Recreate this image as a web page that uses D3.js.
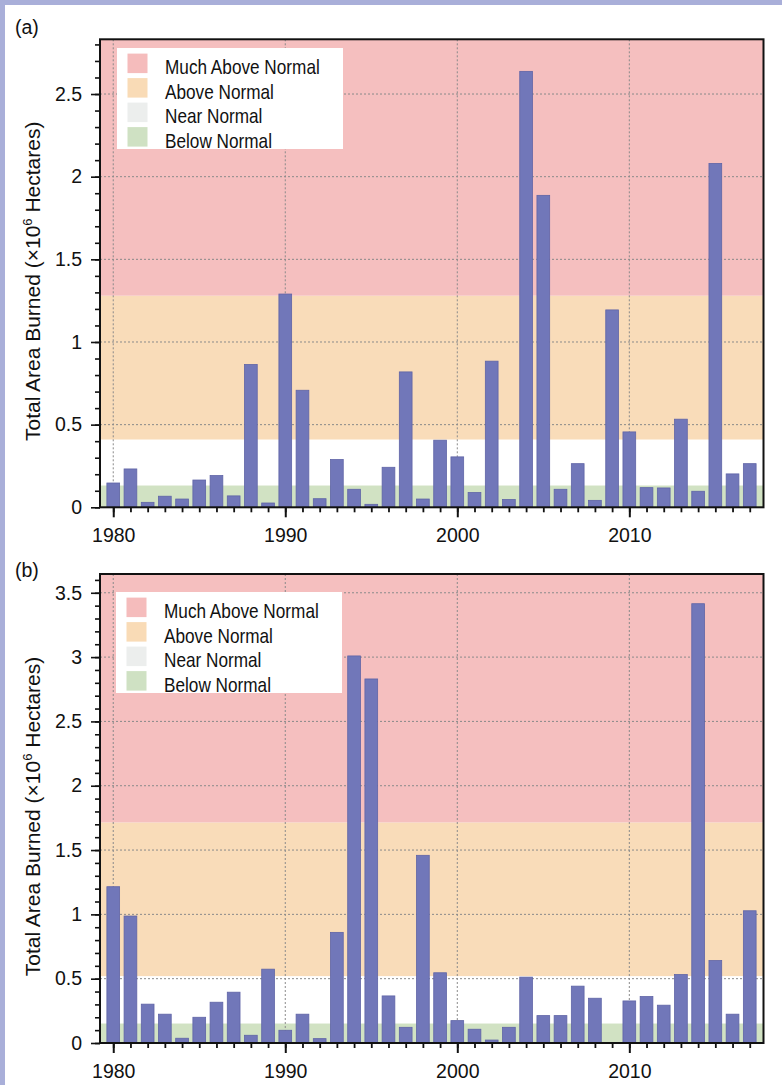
<!DOCTYPE html>
<html><head><meta charset="utf-8">
<script src="https://cdn.jsdelivr.net/npm/d3@7"></script>
<style>
body{margin:0;background:#fff;}
svg{display:block;font-family:"Liberation Sans",Arial,sans-serif;}
</style></head><body>
<svg id="c" width="782" height="1085"></svg>
<script>
// ---- data ----
const years = d3.range(1980, 2018);
const areaA = [0.147,0.232,0.030,0.067,0.050,0.165,0.192,0.069,0.864,0.026,
               1.290,0.708,0.052,0.289,0.109,0.018,0.242,0.819,0.050,0.406,
               0.305,0.089,0.884,0.047,2.637,1.887,0.109,0.264,0.042,1.194,
               0.456,0.119,0.117,0.533,0.097,2.080,0.202,0.264];
const areaB = [1.215,0.987,0.302,0.224,0.037,0.200,0.317,0.395,0.060,0.574,
               0.099,0.224,0.034,0.860,3.009,2.830,0.366,0.122,1.459,0.546,
               0.174,0.107,0.023,0.122,0.512,0.213,0.213,0.442,0.348,null,
               0.327,0.361,0.294,0.532,3.415,0.641,0.224,1.028];
const bandsA = [0.133, 0.41, 1.28];   // below / near / above thresholds
const bandsB = [0.153, 0.52, 1.715];
const legendLabels = ["Much Above Normal","Above Normal","Near Normal","Below Normal"];
const legendColors = ["#f5bcbc","#f9dbb6","#eceeed","#cfe1c3"];
const bandFill = {below:"#d1e2c3", near:"#ffffff", above:"#f9dcb9", much:"#f5bfbf"};
const yTicksA = [0,0.5,1,1.5,2,2.5];
const yTicksB = [0,0.5,1,1.5,2,2.5,3,3.5];
const xTickLabels = [1980,1990,2000,2010];
const panelLabels = ["(a)","(b)"];

// ---- layout ----
const svg = d3.select("#c");
svg.append("rect").attr("x",0).attr("y",0).attr("width",782).attr("height",5).attr("fill","#a9afd9");
svg.append("rect").attr("x",0).attr("y",0).attr("width",5).attr("height",1085).attr("fill","#a9afd9");

const left = 100, right = 763.5;
const x = d3.scaleLinear().domain([1979.23, 2017.8]).range([left, right]);

const panels = [
  {label:panelLabels[0], top:39.3, bottom:507.3, ymax:2.831, values:areaA, bands:bandsA, ticks:yTicksA, lx:117, ly:48, labelY:34},
  {label:panelLabels[1], top:574, bottom:1043, ymax:3.646, values:areaB, bands:bandsB, ticks:yTicksB, lx:116, ly:592, labelY:577}
];

panels.forEach(p => {
  const y = d3.scaleLinear().domain([0, p.ymax]).range([p.bottom, p.top]);
  const g = svg.append("g");
  const segs = [
    [0, p.bands[0], bandFill.below],
    [p.bands[0], p.bands[1], bandFill.near],
    [p.bands[1], p.bands[2], bandFill.above],
    [p.bands[2], p.ymax, bandFill.much]
  ];
  g.selectAll("rect.band").data(segs).join("rect")
    .attr("x", left).attr("width", right-left)
    .attr("y", d => y(d[1])).attr("height", d => y(d[0]) - y(d[1]))
    .attr("fill", d => d[2]);

  // grid
  g.selectAll("line.vg").data(xTickLabels).join("line")
    .attr("x1", d=>x(d)).attr("x2", d=>x(d)).attr("y1", p.top).attr("y2", p.bottom)
    .attr("stroke","#8a8a8a").attr("stroke-width",1).attr("stroke-dasharray","2,2");
  g.selectAll("line.hg").data(p.ticks.filter(t=>t>0)).join("line")
    .attr("x1", left).attr("x2", right).attr("y1", d=>y(d)).attr("y2", d=>y(d))
    .attr("stroke","#8a8a8a").attr("stroke-width",1).attr("stroke-dasharray","2,2");

  // bars
  const hw = 0.37;
  g.selectAll("rect.bar").data(years.map((yr,i)=>({yr, v:p.values[i]})).filter(d=>d.v!=null)).join("rect")
    .attr("x", d => x(d.yr-hw)).attr("width", d => x(d.yr+hw)-x(d.yr-hw))
    .attr("y", d => y(d.v)).attr("height", d => y(0)-y(d.v))
    .attr("fill","#7177b9").attr("stroke","#5f64a6").attr("stroke-width",0.8);

  // legend
  const lg = g.append("g").attr("transform",`translate(${p.lx},${p.ly})`);
  lg.append("rect").attr("width",226).attr("height",101).attr("fill","#fff");
  legendLabels.forEach((lab,i)=>{
    const ry = 5.6 + i*24.5;
    lg.append("rect").attr("x",10.5).attr("y",ry).attr("width",20).attr("height",19.5).attr("fill",legendColors[i]);
    lg.append("text").attr("transform",`translate(48,${ry+20.5}) scale(0.86,1)`)
      .attr("font-size",20).attr("fill","#111").text(lab);
  });

  // frame
  g.append("rect").attr("x",left).attr("y",p.top).attr("width",right-left).attr("height",p.bottom-p.top)
    .attr("fill","none").attr("stroke","#111").attr("stroke-width",2);

  // axes
  const minorY = d3.range(0, p.ymax, 0.1);
  g.append("g").attr("transform",`translate(${left},0)`)
    .call(d3.axisLeft(y).tickValues(minorY).tickSize(5).tickFormat(""))
    .call(a=>{a.select(".domain").remove(); a.selectAll("line").attr("stroke","#111").attr("stroke-width",1.6);});
  g.append("g").attr("transform",`translate(${left},0)`)
    .call(d3.axisLeft(y).tickValues(p.ticks).tickSize(9).tickPadding(9).tickFormat(d3.format("")))
    .call(a=>{a.select(".domain").remove(); a.selectAll("line").attr("stroke","#111").attr("stroke-width",1.6);
      a.selectAll("text").attr("font-size",19.5).attr("fill","#111").attr("font-family","Liberation Sans, Arial, sans-serif");});
  g.append("g").attr("transform",`translate(0,${p.bottom})`)
    .call(d3.axisBottom(x).tickValues(years).tickSize(5).tickFormat(""))
    .call(a=>{a.select(".domain").remove(); a.selectAll("line").attr("stroke","#111").attr("stroke-width",1.8);});
  g.append("g").attr("transform",`translate(0,${p.bottom})`)
    .call(d3.axisBottom(x).tickValues(xTickLabels).tickSize(10).tickPadding(11).tickFormat(d3.format("d")))
    .call(a=>{a.select(".domain").remove(); a.selectAll("line").attr("stroke","#111").attr("stroke-width",2);
      a.selectAll("text").attr("font-size",19.5).attr("fill","#111").attr("font-family","Liberation Sans, Arial, sans-serif");});

  // y title
  const cy = (p.top + p.bottom)/2 + 8;
  const t = g.append("text").attr("transform",`translate(40,${cy}) rotate(-90)`)
    .attr("text-anchor","middle").attr("font-size",21).attr("fill","#111");
  t.append("tspan").text("Total Area Burned (×10");
  t.append("tspan").attr("font-size",13).attr("dy",-8).text("6");
  t.append("tspan").attr("dy",8).text(" Hectares)");

  // panel label
  g.append("text").attr("x",15).attr("y",p.labelY).attr("font-size",19.5).attr("fill","#111").text(p.label);
});
</script>
</body></html>
